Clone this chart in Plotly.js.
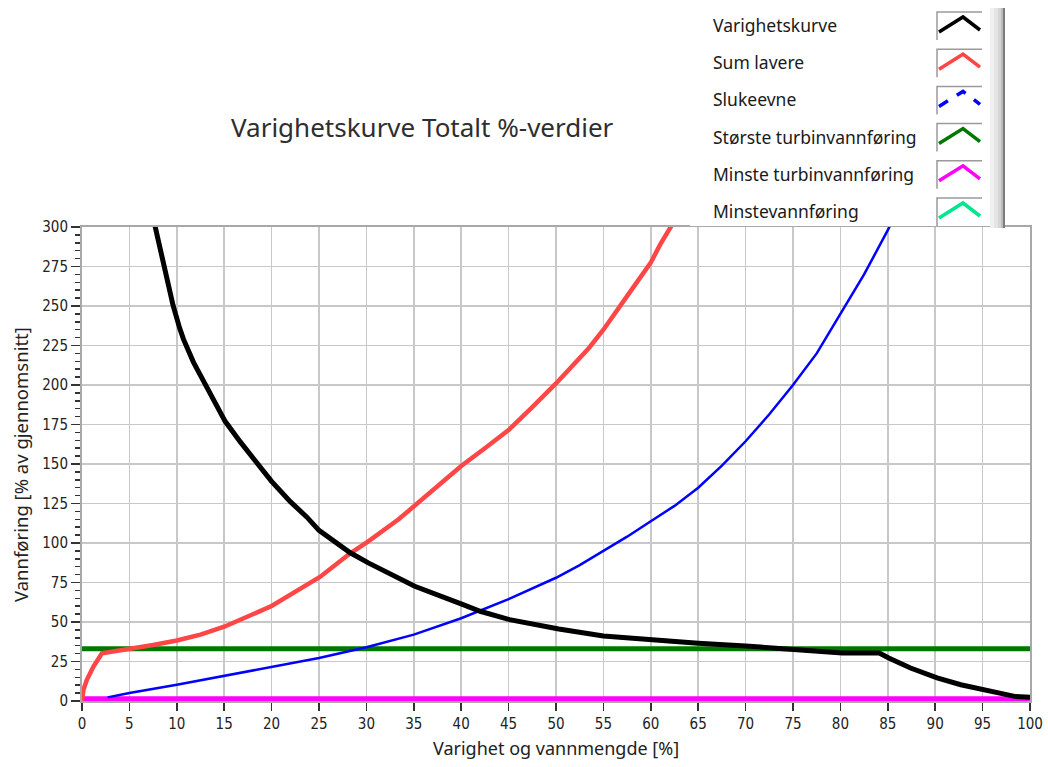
<!DOCTYPE html>
<html>
<head>
<meta charset="utf-8">
<script src="https://cdn.plot.ly/plotly-3.0.1.min.js"></script>
<style>
  html, body { margin: 0; padding: 0; background: #ffffff; }
  #chart { width: 1048px; height: 767px; }
</style>
</head>
<body>
<div id="chart"></div>
<script>
// Varighetskurve (duration curve), % of mean flow vs % of time
const durX = [7.5, 7.7, 8.4, 8.9, 9.6, 10.3, 10.7, 11.75, 13, 15.1, 16.7, 18.6, 20, 22, 23.7, 25, 28.3, 30.2, 35.1, 40.2, 42, 45.1, 50.3, 55, 60, 65, 70, 75, 78, 80.2, 84.1, 85.1, 87.4, 90.2, 92.7, 95.1, 96.9, 98.5, 100];
const durY = [306, 300.7, 283, 267, 250.5, 236, 229, 214.5, 200.5, 177, 164, 150, 139, 126, 116.5, 108, 93.8, 87.4, 72.6, 61, 56.8, 51.5, 45.6, 41.1, 38.6, 36.5, 34.8, 32.9, 31.4, 30.4, 30.4, 27.2, 20.9, 14.6, 10.3, 7.2, 4.2, 2.8, 2.3];

// Sum lavere
const sumX = [0, 0.15, 0.5, 1.2, 2.1, 3, 5, 7.5, 10, 12.5, 15, 17.5, 20, 23, 25.1, 28.3, 30.2, 33.4, 35, 37.5, 40, 42.5, 45, 47.5, 50, 53.5, 55, 58, 60, 61, 62.3, 63];
const sumY = [0, 7, 13.3, 21.7, 30.2, 31, 33.3, 35.5, 38.3, 42, 47, 53.5, 60.1, 71, 78.5, 93.5, 101, 115, 123.3, 136, 148.7, 160, 171.5, 186, 201, 223.6, 235, 260.5, 277.5, 289, 301.6, 309];

// Slukeevne
const slukX = [2.7, 5, 10, 15, 20, 25, 30, 35, 40, 45, 50, 52.5, 55, 57.5, 60, 62.5, 65, 67.5, 70, 72.5, 75, 77.5, 80, 82.5, 85, 85.6];
const slukY = [2.3, 5, 10.3, 15.8, 21.5, 27.2, 34, 42, 52.4, 64.5, 78, 86, 95, 104, 113.8, 123.5, 135, 149, 164.4, 181.5, 200, 220, 245, 270, 298, 305];

// Constant levels
const levelX = [0, 100];
const storsteTurbin = [33, 33];
const minsteTurbin = [1.4, 1.4];
const minstevann = [0, 0];

const seriesNames = ['Varighetskurve', 'Sum lavere', 'Slukeevne', 'Største turbinvannføring', 'Minste turbinvannføring', 'Minstevannføring'];
const seriesColors = ['#000000', '#ff4646', '#0000ff', '#007800', '#ff00ff', '#00e68c'];

const xTicks = [0, 5, 10, 15, 20, 25, 30, 35, 40, 45, 50, 55, 60, 65, 70, 75, 80, 85, 90, 95, 100];
const yTicks = [0, 25, 50, 75, 100, 125, 150, 175, 200, 225, 250, 275, 300];

const titleText = 'Varighetskurve Totalt %-verdier';
const xTitle = 'Varighet og vannmengde [%]';
const yTitle = 'Vannføring [% av gjennomsnitt]';

// plot-area frame in page pixels
const L = 82, R = 1030, T = 227, B = 701;
const W = 1048, H = 767;
const px = x => (x - L) / (R - L);
const py = y => (B - y) / (B - T);

const traces = [
  { x: levelX, y: minstevann, mode: 'lines', line: { color: seriesColors[5], width: 3 }, name: seriesNames[5] },
  { x: levelX, y: minsteTurbin, mode: 'lines', line: { color: seriesColors[4], width: 5 }, name: seriesNames[4] },
  { x: levelX, y: storsteTurbin, mode: 'lines', line: { color: seriesColors[3], width: 5 }, name: seriesNames[3] },
  { x: slukX, y: slukY, mode: 'lines', line: { color: seriesColors[2], width: 2.5 }, name: seriesNames[2] },
  { x: sumX, y: sumY, mode: 'lines', line: { color: seriesColors[1], width: 4.5 }, name: seriesNames[1] },
  { x: durX, y: durY, mode: 'lines', line: { color: seriesColors[0], width: 5 }, name: seriesNames[0] }
];

const shapes = [];
const annotations = [];

// legend panel with a shaded right edge
shapes.push({ type: 'rect', xref: 'paper', yref: 'paper', x0: px(690), x1: px(992), y0: py(226), y1: py(0), fillcolor: '#ffffff', line: { width: 0 }, layer: 'above' });
const shade = [[990, 994, '#f0f0f0'], [994, 998, '#e4e4e4'], [998, 1001, '#d6d6d6'], [1001, 1003, '#bcbcbc'], [1003, 1005, '#7c7c7c']];
shade.forEach(s => shapes.push({ type: 'rect', xref: 'paper', yref: 'paper', x0: px(s[0]), x1: px(s[1]), y0: py(228), y1: py(8), fillcolor: s[2], line: { width: 0 }, layer: 'above' }));

const legendFont = { family: 'Noto Sans, DejaVu Sans, sans-serif', size: 17.5, color: '#1a1a1a' };
seriesNames.forEach((name, i) => {
  const yc = 25 + i * 37.2;
  annotations.push({ xref: 'paper', yref: 'paper', x: px(711), y: py(yc), xanchor: 'left', yanchor: 'middle', text: name, showarrow: false, font: legendFont });
  // swatch frame: grey top and left edges
  shapes.push({ type: 'path', xref: 'paper', yref: 'paper', path: `M ${px(937)},${py(yc + 15)} L ${px(937)},${py(yc - 13)} L ${px(982)},${py(yc - 13)}`, line: { color: '#9a9a9a', width: 1.5 }, layer: 'above' });
  shapes.push({ type: 'path', xref: 'paper', yref: 'paper', path: `M ${px(939)},${py(yc + 7)} L ${px(963)},${py(yc - 8)} L ${px(980)},${py(yc + 5)}`, line: { color: seriesColors[i], width: 3.5, dash: i === 2 ? 'dash' : 'solid' }, layer: 'above' });
});

const textFont = 'Noto Sans, DejaVu Sans, sans-serif';
annotations.push({ xref: 'paper', yref: 'paper', x: px(422), y: py(127), xanchor: 'center', yanchor: 'middle', text: titleText, showarrow: false, font: { family: textFont, size: 26, color: '#2e2e2e' } });
annotations.push({ xref: 'paper', yref: 'paper', x: px(556), y: py(748), xanchor: 'center', yanchor: 'middle', text: xTitle, showarrow: false, font: { family: textFont, size: 18, color: '#222222' } });
annotations.push({ xref: 'paper', yref: 'paper', x: px(20), y: py(465), xanchor: 'center', yanchor: 'middle', textangle: -90, text: yTitle, showarrow: false, font: { family: textFont, size: 18.5, color: '#222222' } });

const tickFont = { family: 'Liberation Sans Narrow, DejaVu Sans Condensed, Liberation Sans, sans-serif', size: 15, color: '#222222' };

const layout = {
  width: W, height: H,
  margin: { l: L, r: W - R, t: T, b: H - B, pad: 0 },
  paper_bgcolor: '#ffffff',
  plot_bgcolor: '#ffffff',
  showlegend: false,
  xaxis: {
    range: [0, 100], tickvals: xTicks, ticktext: xTicks.map(String),
    ticks: 'outside', ticklen: 8, tickwidth: 1.5, tickcolor: '#333333',
    tickfont: tickFont,
    showgrid: true, gridcolor: '#c8c8c8', gridwidth: 1.5,
    showline: true, linecolor: '#a8a8a8', linewidth: 2, mirror: true,
    zeroline: false, fixedrange: true, layer: 'below traces'
  },
  yaxis: {
    range: [0, 300], tickvals: yTicks, ticktext: yTicks.map(String),
    ticks: 'outside', ticklen: 9, tickwidth: 1.5, tickcolor: '#333333',
    minor: { dtick: 5, ticks: 'outside', ticklen: 5, tickwidth: 1.5, tickcolor: '#333333', showgrid: false },
    tickfont: tickFont,
    showgrid: true, gridcolor: '#c8c8c8', gridwidth: 1.5,
    showline: true, linecolor: '#a8a8a8', linewidth: 2, mirror: true,
    zeroline: false, fixedrange: true
  },
  shapes: shapes,
  annotations: annotations
};

Plotly.newPlot('chart', traces, layout, { displayModeBar: false, staticPlot: true });
</script>
</body>
</html>
